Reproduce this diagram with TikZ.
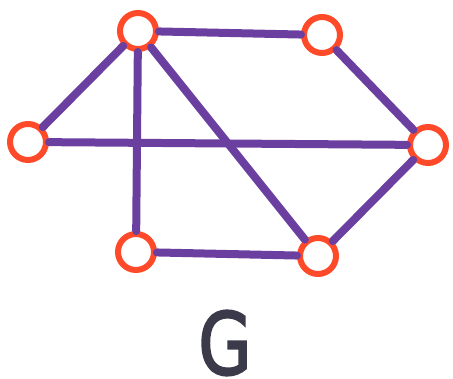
\documentclass[tikz,border=0pt]{standalone}
\usepackage{fontspec}
\setsansfont{DejaVu Sans}
\newfontfamily\gfont[FakeBold=2.5]{DejaVu Sans}
\definecolor{vred}{HTML}{FF4A2A}
\definecolor{epurp}{HTML}{6B3FA0}
\definecolor{gdark}{HTML}{3A3A4A}
\begin{document}
\begin{tikzpicture}[x=1pt,y=-1pt,
  vtx/.style={circle,draw=vred,line width=6pt,fill=white,minimum size=36pt,inner sep=0pt},
  edge/.style={draw=epurp,line width=8pt,line cap=round}]
\useasboundingbox (0,0) rectangle (453,379);
\node[vtx] (A) at (138,31) {};
\node[vtx] (B) at (322,35) {};
\node[vtx] (C) at (28,142) {};
\node[vtx] (D) at (428,145) {};
\node[vtx] (E) at (136,252) {};
\node[vtx] (F) at (318,256) {};
\path[edge] (A) -- (B);
\path[edge] (A) -- (C);
\path[edge] (A) -- (E);
\path[edge] (A) -- (F);
\path[edge] (C) -- (D);
\path[edge] (B) -- (D);
\path[edge] (D) -- (F);
\path[edge] (E) -- (F);
\node[font=\gfont\fontsize{86}{86}\selectfont,text=gdark,inner sep=0pt] (G) at (225,343) {\scalebox{0.8}[1]{G}};
\end{tikzpicture}
\end{document}
